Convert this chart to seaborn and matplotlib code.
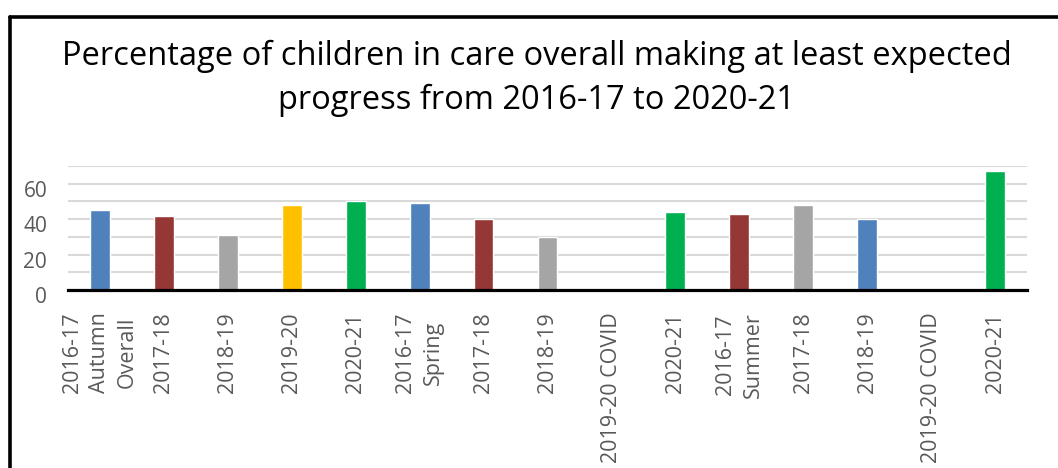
import matplotlib
matplotlib.use("Agg")
import matplotlib.pyplot as plt
import matplotlib.transforms as mtransforms
import seaborn as sns
import pandas as pd
import numpy as np
from matplotlib.lines import Line2D

# ---- data ----
labels = ["2016-17\nAutumn\nOverall", "2017-18", "2018-19", "2019-20", "2020-21",
          "2016-17\nSpring", "2017-18", "2018-19", "2019-20 COVID", "2020-21",
          "2016-17\nSummer", "2017-18", "2018-19", "2019-20 COVID", "2020-21"]
values = [45, 42, 31, 48, 50,
          49, 40, 30, np.nan, 44,
          43, 48, 40, np.nan, 67]
colors = ["#4F81BD", "#953735", "#A5A5A5", "#FFC000", "#00B050",
          "#4F81BD", "#953735", "#A5A5A5", "#A5A5A5", "#00B050",
          "#953735", "#A5A5A5", "#4F81BD", "#4F81BD", "#00B050"]
y_ticks = [0, 10, 20, 30, 40, 50, 60, 70]
y_ticklabels = ["0", "", "20", "", "40", "", "60", ""]
title = "Percentage of children in care overall making at least expected\nprogress from 2016-17 to 2020-21"

keys = [f"k{i}" for i in range(len(labels))]
df = pd.DataFrame({"key": keys, "value": values})

sns.set_theme(style="white")
plt.rcParams["font.family"] = ["Open Sans", "DejaVu Sans"]

fig = plt.figure(figsize=(10.58, 4.68), dpi=100)
ax = fig.add_axes([68 / 1058, 178 / 468, 959 / 1058, 124 / 468])

sns.barplot(data=df, x="key", y="value", hue="key", order=keys, hue_order=keys,
            palette=dict(zip(keys, colors)), dodge=False, legend=False,
            width=0.31, ax=ax, saturation=1, errorbar=None)

ax.set_ylim(0, 70)
ax.set_xlim(-0.5, len(keys) - 0.5)
ax.set_yticks(y_ticks)
ax.set_yticklabels(y_ticklabels, color="#595959", fontsize=15)
ax.set_xticks(range(len(keys)))
ax.set_xticklabels(labels, rotation=90, color="#595959", fontsize=15.5,
                   ha="center", va="top", multialignment="center", linespacing=1.4)
ax.tick_params(axis="x", length=0, pad=16)
ax.tick_params(axis="y", length=0, pad=15)
shift = mtransforms.ScaledTranslation(0, -5 / 100, fig.dpi_scale_trans)
for t in ax.get_yticklabels():
    t.set_transform(t.get_transform() + shift)
ax.set_xlabel("")
ax.set_ylabel("")
ax.yaxis.grid(True, color="#D9D9D9", linewidth=1.5)
ax.set_axisbelow(True)
for s in ["top", "right", "left"]:
    ax.spines[s].set_visible(False)
ax.spines["bottom"].set_color("black")
ax.spines["bottom"].set_linewidth(2.3)

fig.text(0.507, (468 - 78) / 468, title, ha="center", va="center",
         fontsize=23.5, color="black", linespacing=1.42)

# outer border (cropped rectangle)
bx = 10 / 1058
by = (468 - 16.5) / 468
fig.add_artist(Line2D([bx, bx], [0, by], transform=fig.transFigure, color="black", lw=2.6))
fig.add_artist(Line2D([bx, 1], [by, by], transform=fig.transFigure, color="black", lw=2.6))

fig.savefig("out.png", dpi=100, facecolor="white")
